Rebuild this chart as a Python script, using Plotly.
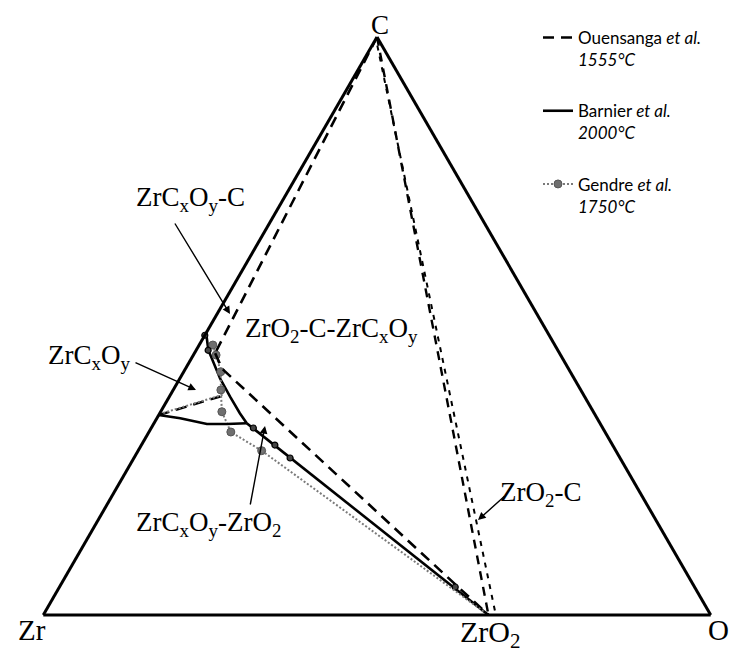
import plotly.graph_objects as go

# compositions, atomic fractions (C, O); Zr = 1 - C - O
# Ouensanga et al. 1555°C (dashed)
oue_c_tie_C = [1.0, 0.453]
oue_c_tie_O = [0.0, 0.031]
oue_zro2_tie_C = [0.453, 0.426, 0.0]
oue_zro2_tie_O = [0.031, 0.055, 0.667]
oue_zr_side_C = [0.346, 0.378]
oue_zr_side_O = [0.0, 0.076]
oue_c_zro2_C = [1.0, 0.0]
oue_c_zro2_O = [0.0, 0.667]
oue_c_zro2b_C = [0.985, 0.0]
oue_c_zro2b_O = [0.008, 0.678]

# Barnier et al. 2000°C (solid)
bar_c_side_C = [0.488, 0.4585, 0.4095, 0.3777, 0.349, 0.3317]
bar_c_side_O = [0.0, 0.018, 0.060, 0.091, 0.120, 0.139]
bar_zr_side_C = [0.346, 0.3403, 0.3304, 0.3304, 0.3317]
bar_zr_side_O = [0.0, 0.035, 0.080, 0.110, 0.139]
bar_tie_C = [0.3317, 0.0]
bar_tie_O = [0.139, 0.667]
bar_pts_C = [0.484, 0.458, 0.3235, 0.294, 0.2716, 0.0484]
bar_pts_O = [0.0, 0.018, 0.153, 0.200, 0.234, 0.593]

# Gendre et al. 1750°C (dotted + points)
gen_pts_C = [0.4671, 0.4498, 0.4209, 0.3893, 0.3517, 0.3166, 0.2843]
gen_pts_O = [0.0205, 0.034, 0.0555, 0.0714, 0.0917, 0.1227, 0.185]
gen_tail_C = [0.2843, 0.004]
gen_tail_O = [0.185, 0.660]
gen_zr_side_C = [0.3495, 0.3806, 0.3893]
gen_zr_side_O = [0.005, 0.077, 0.0714]


def zr(c, o):
    return [1 - a - b for a, b in zip(c, o)]


fig = go.Figure()

DASH = "11px,7px"
GRAY = "#7a7a7a"


def tern(c, o, **kw):
    fig.add_trace(go.Scatterternary(a=c, b=zr(c, o), c=o, cliponaxis=False,
                                    hoverinfo="skip", **kw))


tern(oue_c_tie_C, oue_c_tie_O, mode="lines", name="Ouensanga <i>et al.</i><br><i>1555°C</i>",
     legendgroup="o", line=dict(color="black", width=2.6, dash=DASH))
tern(bar_c_side_C, bar_c_side_O, mode="lines", name="Barnier <i>et al.</i><br><i>2000°C</i>",
     legendgroup="b", line=dict(color="black", width=2.6))
tern(gen_pts_C, gen_pts_O, mode="lines+markers", name="Gendre <i>et al.</i><br><i>1750°C</i>",
     legendgroup="g", line=dict(color=GRAY, width=2, dash="2px,2px"),
     marker=dict(color="#6f6f6f", size=8, line=dict(color="#555555", width=1)))

tern(oue_zro2_tie_C, oue_zro2_tie_O, mode="lines", showlegend=False,
     line=dict(color="black", width=2.6, dash=DASH))
tern(oue_zr_side_C, oue_zr_side_O, mode="lines", showlegend=False,
     line=dict(color="black", width=2.4, dash=DASH))
tern(oue_c_zro2_C, oue_c_zro2_O, mode="lines", showlegend=False,
     line=dict(color="black", width=2.4, dash="9px,7px"))
tern(oue_c_zro2b_C, oue_c_zro2b_O, mode="lines", showlegend=False,
     line=dict(color="black", width=2, dash="5px,6px"))

tern(bar_zr_side_C, bar_zr_side_O, mode="lines", showlegend=False,
     line=dict(color="black", width=2.6))
tern(bar_tie_C, bar_tie_O, mode="lines", showlegend=False,
     line=dict(color="black", width=2.6))
tern(bar_pts_C, bar_pts_O, mode="markers", showlegend=False,
     marker=dict(color="#444444", size=6, line=dict(color="black", width=1.2)))

tern(gen_tail_C, gen_tail_O, mode="lines", showlegend=False,
     line=dict(color=GRAY, width=2, dash="2px,2px"))
tern(gen_zr_side_C, gen_zr_side_O, mode="lines", showlegend=False,
     line=dict(color=GRAY, width=2, dash="2px,2px"))

# the page body adds an 8px margin, so the figure is drawn 8px in from the corner
OFF = 8
W, H = 737 - OFF, 659 - OFF


def X(px):
    return (px - OFF) / W


def Y(py):
    return 1 - (py - OFF) / H


ax_style = dict(showgrid=False, showticklabels=False, ticks="", title=dict(text=""),
                showline=True, linecolor="black", linewidth=3)

fig.update_layout(
    width=W, height=H,
    margin=dict(l=0, r=0, t=0, b=0),
    paper_bgcolor="white",
    ternary=dict(sum=1, bgcolor="white",
                 domain=dict(x=[X(43), X(711)], y=[Y(615), Y(37)]),
                 aaxis=ax_style, baxis=ax_style, caxis=ax_style),
    legend=dict(x=X(538), y=Y(20), xanchor="left", yanchor="top", valign="top",
                traceorder="grouped", tracegroupgap=26, bgcolor="rgba(0,0,0,0)",
                font=dict(family="Lato", size=17, color="black")),
    showlegend=True,
)

serif = "Liberation Serif"


def label(px, py, txt, size):
    fig.add_annotation(x=X(px), y=Y(py), xref="paper", yref="paper", text=txt,
                       xanchor="center", yanchor="middle", showarrow=False,
                       font=dict(family=serif, size=size, color="black"))


def arrow(hx, hy, tx, ty):
    fig.add_annotation(x=X(hx), y=Y(hy), xref="paper", yref="paper", text="",
                       showarrow=True, ax=tx - hx, ay=ty - hy, arrowhead=2, arrowsize=1.1,
                       arrowwidth=1.4, arrowcolor="black", standoff=0)


label(380, 25, "C", 27)
label(32, 630, "Zr", 29)
label(490, 634, "ZrO<sub>2</sub>", 30)
label(718, 630, "O", 29)
label(190, 199, "ZrC<sub>x</sub>O<sub>y</sub>-C", 27)
label(331, 330, "ZrO<sub>2</sub>-C-ZrC<sub>x</sub>O<sub>y</sub>", 27)
label(89, 357, "ZrC<sub>x</sub>O<sub>y</sub>", 27)
label(208, 524, "ZrC<sub>x</sub>O<sub>y</sub>-ZrO<sub>2</sub>", 27)
label(540, 494, "ZrO<sub>2</sub>-C", 27)

arrow(230, 314, 174, 222)
arrow(196, 390, 134, 362)
arrow(265, 426, 250, 506)
arrow(478, 520, 506, 495)

fig.write_html("out.html")
